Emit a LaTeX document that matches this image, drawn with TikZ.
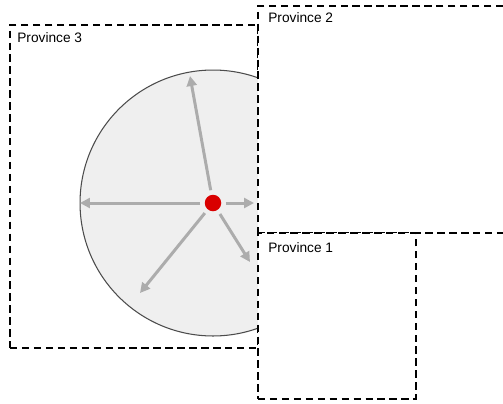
\documentclass[tikz,border=0pt]{standalone}
\usepackage{fontspec}
\setmainfont{Liberation Sans}
\usetikzlibrary{positioning, arrows.meta}
\definecolor{spokegray}{HTML}{ACACAC}
\definecolor{areagray}{HTML}{EFEFEF}
\definecolor{dotred}{HTML}{D90000}
\tikzset{
    province/.style={draw, dashed, line width=1.2pt, dash pattern=on 4.2pt off 2.6pt, inner sep=0pt, outer sep=0pt},
    provlabel/.style={font=\fontsize{7.8}{9}\selectfont, inner sep=0pt},
    area/.style={draw=black!70, fill=areagray, circle, line width=0.6pt, minimum size=5.32cm, inner sep=0pt},
    centre/.style={circle, fill=dotred, minimum size=0.33cm, inner sep=0pt},
    spoke/.style={draw=spokegray, line width=1.7pt, shorten <=2.5pt, -{Triangle[length=0.2cm, width=0.2cm]}}
}
\begin{document}
\begin{tikzpicture}[x=0.02cm, y=-0.02cm]
  \useasboundingbox (0,0) rectangle (503,403);
  \fill[white] (0,0) rectangle (503,403);
  \clip (0,0) rectangle (503,403);
  % province 3 sits behind the area
  \node(P3)[province, minimum width=4.96cm, minimum height=6.46cm] at (134,186.5){};
  \node(L3)[provlabel, anchor=north west] at (17,32){Province 3};
  % reach of the centre
  \node(A)[area] at (213,203){};
  \node(C)[centre] at (213,203){};
  \coordinate(T1) at (190,76);
  \coordinate(T2) at (80,203);
  \coordinate(T3) at (254,203);
  \coordinate(T4) at (250,262);
  \coordinate(T5) at (140,293);
  \foreach \t in {T1,T2,T3,T4,T5}
    \draw[spoke](C)--(\t);
  % provinces 2 and 1 cover the right side
  \node(P2)[province, fill=white, minimum width=5.44cm, minimum height=4.54cm] at (394,119.5){};
  \node(L2)[provlabel, anchor=north west] at (268,12){Province 2};
  \node(P1)[province, fill=white, minimum width=3.16cm, minimum height=3.32cm] at (337,316){};
  \node(L1)[provlabel, anchor=north west] at (268,242){Province 1};
\end{tikzpicture}
\end{document}
